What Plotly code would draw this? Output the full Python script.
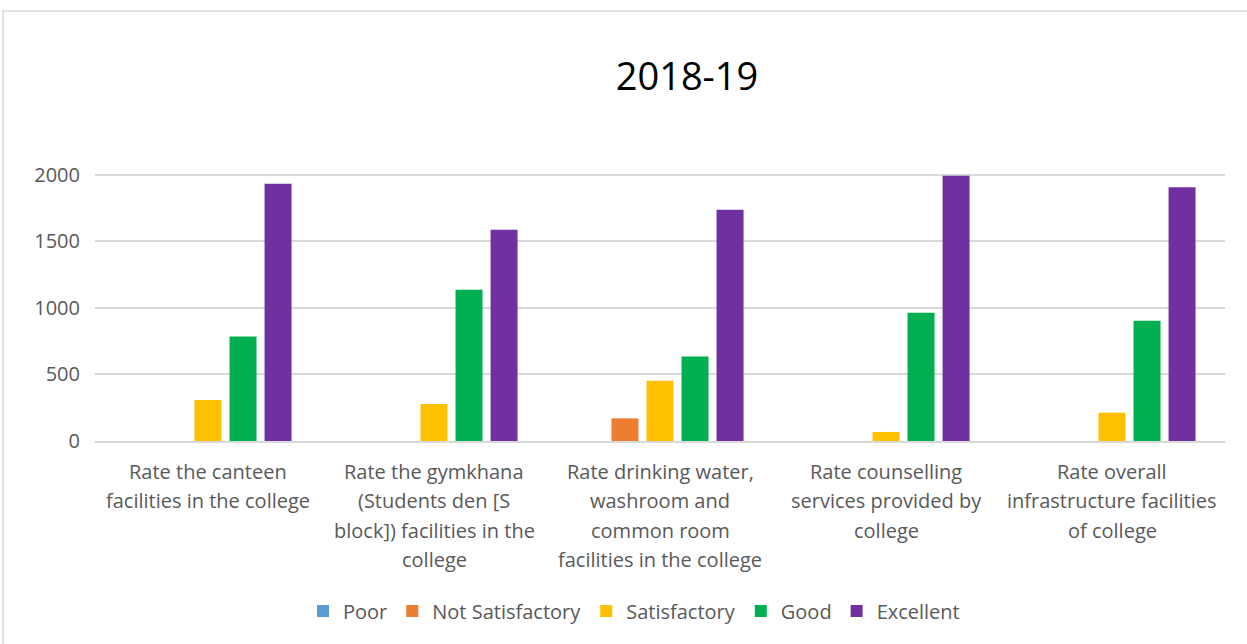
import plotly.graph_objects as go

categories = [
    "Rate the canteen<br>facilities in the college",
    "Rate the gymkhana<br>(Students den [S<br>block]) facilities in the<br>college",
    "Rate drinking water,<br>washroom and<br>common room<br>facilities in the college",
    "Rate counselling<br>services provided by<br>college",
    "Rate overall<br>infrastructure facilities<br>of college",
]
series_names = ["Poor", "Not Satisfactory", "Satisfactory", "Good", "Excellent"]
poor = [0, 0, 0, 0, 0]
not_satisfactory = [0, 0, 170, 0, 0]
satisfactory = [308, 278, 453, 68, 213]
good = [784, 1135, 634, 962, 902]
excellent = [1932, 1586, 1737, 1992, 1905]
colors = ["#5B9BD5", "#ED7D31", "#FFC000", "#00B050", "#7030A0"]
ytick_vals = [0, 500, 1000, 1500, 2000, 2500]
ytick_text = ["0", "500", "1000", "1500", "2000", ""]
title = "2018-19"

FONT = "Open Sans"
GRAY = "#595959"

W, H = 1247, 644
L, R, T, B = 95, 22, 108, 203
PW, PH = W - L - R, H - T - B

fig = go.Figure()
for name, vals, col in zip(series_names, [poor, not_satisfactory, satisfactory, good, excellent], colors):
    fig.add_trace(go.Bar(name=name, x=categories, y=vals, marker=dict(color=col, line=dict(width=0))))

# category labels as per-line annotations for wide line spacing
for cat in categories:
    for i, line in enumerate(cat.split("<br>")):
        fig.add_annotation(
            x=cat, xref="x", y=0, yref="paper", yanchor="middle",
            yshift=-30 - 29.5 * i, text=line, showarrow=False,
            font=dict(family=FONT, size=20, color=GRAY),
        )

# outer chart border
fig.add_shape(type="rect", xref="paper", yref="paper",
              x0=(3 - L) / PW, x1=1.1, y0=-1.0, y1=1 + (T - 11) / PH,
              line=dict(color="#D9D9D9", width=1.5), fillcolor="rgba(0,0,0,0)", layer="below")

fig.update_layout(
    width=W, height=H,
    margin=dict(l=L, r=R, t=T, b=B),
    paper_bgcolor="white", plot_bgcolor="white",
    title=dict(text=title, x=687 / W, xanchor="center",
               y=1 - 77 / H, yanchor="middle",
               font=dict(family=FONT, size=38, color="#000000")),
    barmode="group", bargap=0.225, bargroupgap=0.23,
    xaxis=dict(showticklabels=False, showline=True, linecolor="#D9D9D9", linewidth=1.5,
               ticks="", showgrid=False),
    yaxis=dict(range=[0, 2500], tickvals=ytick_vals, ticktext=ytick_text,
               showgrid=True, gridcolor="#D9D9D9", gridwidth=1.5, zeroline=False,
               showline=False, ticks="", ticklen=0, ticklabelstandoff=14,
               tickfont=dict(family=FONT, size=20, color=GRAY)),
    legend=dict(orientation="h", x=(634 - L) / PW, xanchor="center",
                y=(T + PH - 611) / PH, yanchor="middle",
                font=dict(family=FONT, size=20, color=GRAY), itemwidth=30,
                traceorder="normal"),
    showlegend=True,
)

fig.write_html("out.html", config={"displayModeBar": False},
               post_script="document.body.style.margin='0px';document.body.style.overflow='hidden';")
